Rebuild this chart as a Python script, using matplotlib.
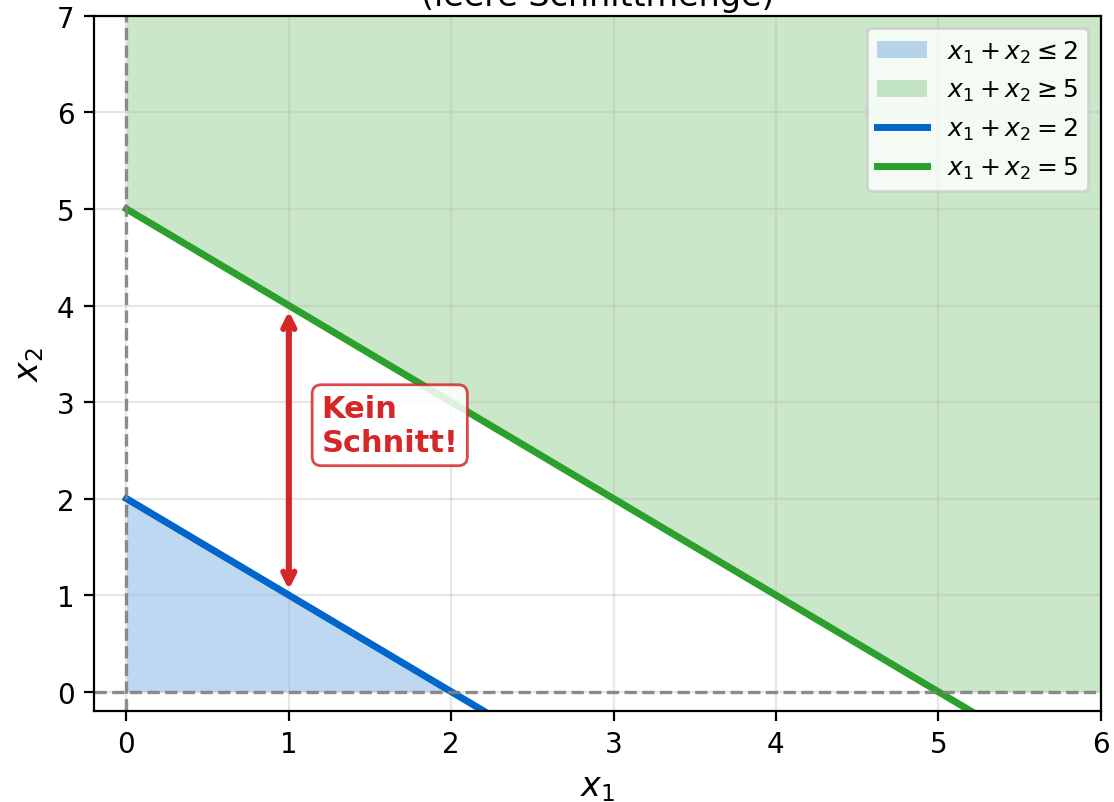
import numpy as np
import matplotlib
matplotlib.use('Agg')
import matplotlib.pyplot as plt

# constraint data
b_low = 2   # x1 + x2 <= 2
b_high = 5  # x1 + x2 >= 5
x_line = [0, 6]
y_low = [b_low - v for v in x_line]
y_high = [b_high - v for v in x_line]
x_fill_low = [0, 2]
x_fill_high = [0, 5, 6]
y_fill_high = [5, 0, 0]
x_ticks = [0, 1, 2, 3, 4, 5, 6]
y_ticks = [0, 1, 2, 3, 4, 5, 6, 7]
arrow_x = 1
arrow_y = [1, 4]

def main():
    fig, ax = plt.subplots(figsize=(5.57, 4.015), dpi=200)
    fig.subplots_adjust(left=0.0844, right=0.988, top=0.979, bottom=0.1133)

    ax.fill_between(x_fill_low, [0, 0], [b_low - v for v in x_fill_low],
                    color='#0066cc', alpha=0.25, linewidth=0, label=r'$x_1 + x_2 \leq 2$')
    ax.fill_between(x_fill_high, y_fill_high, 7,
                    color='#2ca02c', alpha=0.25, linewidth=0, label=r'$x_1 + x_2 \geq 5$')
    ax.plot(x_line, y_low, '-', color='#0066cc', lw=2.5, label=r'$x_1 + x_2 = 2$')
    ax.plot(x_line, y_high, '-', color='#2ca02c', lw=2.5, label=r'$x_1 + x_2 = 5$')

    ax.axhline(0, color='gray', ls='--', lw=1.2, alpha=0.9)
    ax.axvline(0, color='gray', ls='--', lw=1.2, alpha=0.9)

    ax.annotate('', xy=(arrow_x, arrow_y[1]), xytext=(arrow_x, arrow_y[0]),
                arrowprops=dict(arrowstyle='<->', color='#d62728', lw=2.2))
    ax.text(1.2, 2.76, 'Kein\nSchnitt!', color='#d62728', fontsize=11, fontweight='bold',
            ha='left', va='center',
            bbox=dict(boxstyle='round,pad=0.3', facecolor='white', edgecolor='#d62728', alpha=0.85))

    ax.set_xlim(-0.2, 6)
    ax.set_ylim(-0.2, 7)
    ax.set_xticks(x_ticks)
    ax.set_yticks(y_ticks)
    ax.set_xlabel(r'$x_1$', fontsize=12)
    ax.set_ylabel(r'$x_2$', fontsize=12)
    ax.set_title('Widersprüchliche Restriktionen\n(leere Schnittmenge)', fontsize=12, pad=4)
    ax.grid(True, alpha=0.3)
    ax.legend(loc='upper right', fontsize=9)

    fig.savefig('out.png', dpi=200)

if __name__ == '__main__':
    main()
